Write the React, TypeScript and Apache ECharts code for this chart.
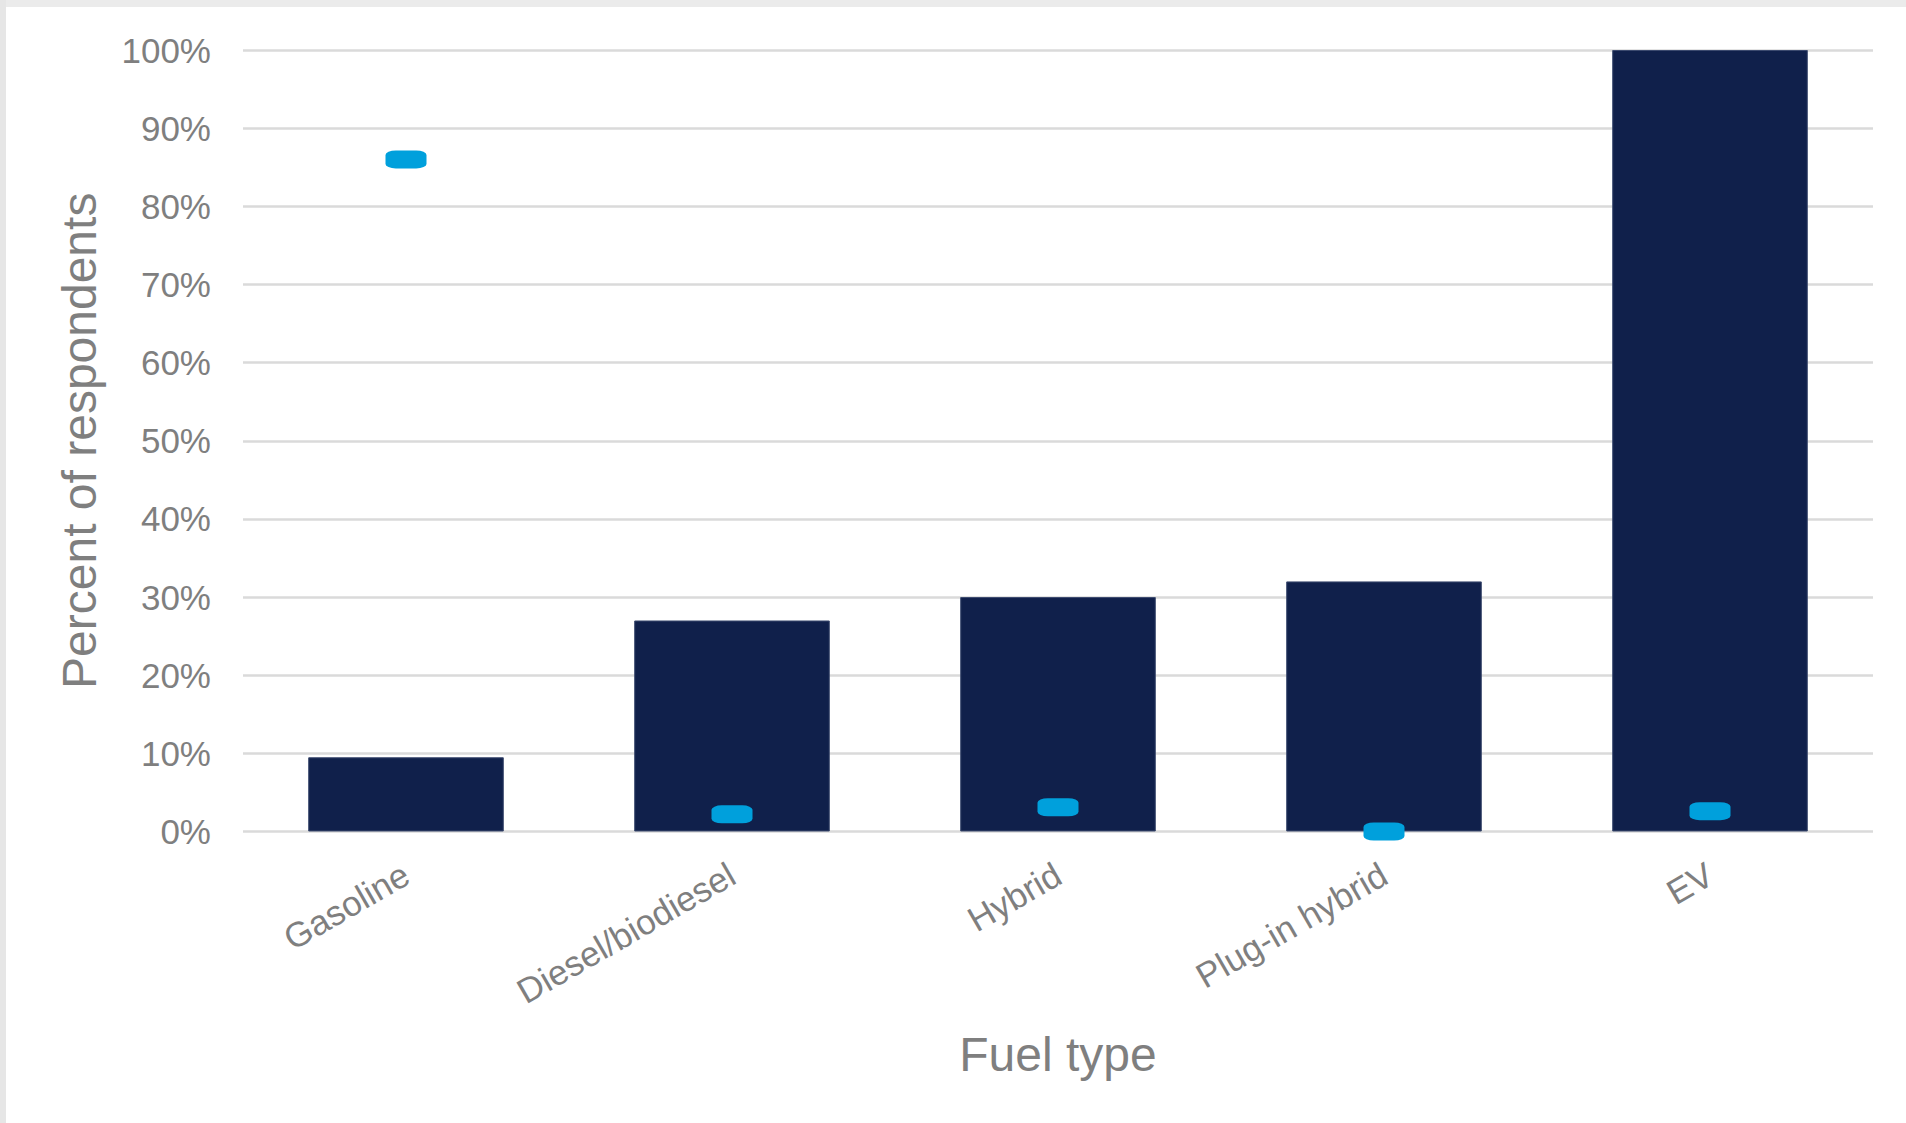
import React, { useEffect, useRef } from "react";
import * as echarts from "echarts";

// Fuel types and survey results (percent of respondents)
const categories = ["Gasoline", "Diesel/biodiesel", "Hybrid", "Plug-in hybrid", "EV"];
const barValues = [9.5, 27, 30, 32, 100];
const markerValues = [86, 2.2, 3.1, 0, 2.6];

const FONT = "'Liberation Sans', Arial, Helvetica, sans-serif";
const TEXT_GRAY = "#7f7f7f";

export default function App() {
  const ref = useRef<HTMLDivElement>(null);

  useEffect(() => {
    if (!ref.current) return;
    const chart = echarts.init(ref.current, null, { renderer: "svg" });
    chart.setOption({
      animation: false,
      backgroundColor: "#ffffff",
      textStyle: { fontFamily: FONT },
      graphic: [
        { type: "rect", left: 0, top: 0, shape: { width: 1906, height: 7 }, style: { fill: "#ebebeb" }, z: 10 },
        { type: "rect", left: 0, top: 0, shape: { width: 6, height: 1123 }, style: { fill: "#e6e6e6" }, z: 10 },
      ],
      grid: { left: 243, right: 33, top: 50, bottom: 291.5, containLabel: false },
      xAxis: {
        type: "category",
        data: categories,
        name: "Fuel type",
        nameLocation: "middle",
        nameGap: 199,
        nameTextStyle: { fontSize: 48, color: TEXT_GRAY, fontFamily: FONT },
        axisLine: { show: false },
        axisTick: { show: false },
        axisLabel: {
          rotate: 30,
          margin: 40,
          fontSize: 35,
          color: TEXT_GRAY,
          fontFamily: FONT,
          interval: 0,
        },
      },
      yAxis: {
        type: "value",
        min: 0,
        max: 100,
        interval: 10,
        name: "Percent of respondents",
        nameLocation: "middle",
        nameGap: 140,
        nameTextStyle: { fontSize: 48, color: TEXT_GRAY, fontFamily: FONT },
        axisLine: { show: false },
        axisTick: { show: false },
        axisLabel: {
          formatter: "{value}%",
          margin: 32,
          fontSize: 35,
          color: TEXT_GRAY,
          fontFamily: FONT,
        },
        splitLine: { lineStyle: { color: "#dadada", width: 2.5 } },
      },
      series: [
        {
          type: "bar",
          data: barValues,
          barWidth: "60%",
          itemStyle: { color: "#10204b", borderColor: "#3c4a6f", borderWidth: 1 },
          z: 2,
        },
        {
          type: "scatter",
          data: markerValues,
          symbol: "roundRect",
          symbolSize: [41, 18],
          itemStyle: { color: "#00a0dc", opacity: 1 },
          z: 3,
        },
      ],
    });
    return () => chart.dispose();
  }, []);

  return (
    <div
      ref={ref}
      style={{ position: "fixed", left: 0, top: 0, width: 1906, height: 1123, background: "#fff" }}
    />
  );
}
